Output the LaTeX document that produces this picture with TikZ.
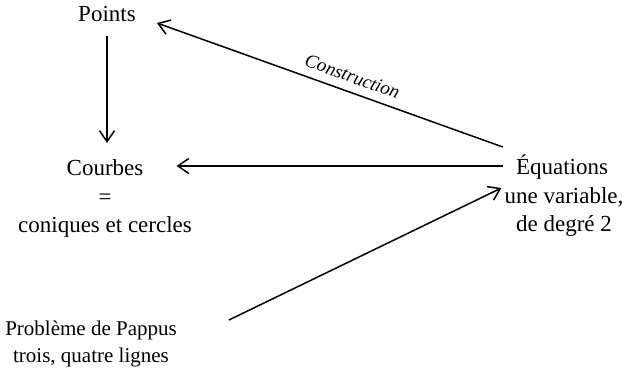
\documentclass[tikz,border=0pt]{standalone}
\usepackage{fontspec}
\setmainfont{Liberation Serif}
\usetikzlibrary{arrows.meta,calc}
\begin{document}
\begin{tikzpicture}[x=1pt,y=-1pt,
  lbl/.style={inner sep=0pt, anchor=base, font=\fontsize{23}{28}\selectfont},
  lbls/.style={inner sep=0pt, anchor=base, font=\fontsize{21}{27}\selectfont},
  arr/.style={-{Straight Barb[length=11pt,width=15pt,line width=1.5pt]}, line width=1.5pt},
  lab/.style={font=\fontsize{19}{22}\selectfont\itshape, inner sep=0pt}]
\useasboundingbox (0,0) rectangle (629,379);
\node[lbl] (points) at (107,22) {Points};
\node[lbl] (courbes) at (105,176) {Courbes};
\node[lbl] (egal) at (105,205) {=};
\node[lbl] (coniques) at (105,233) {coniques et cercles};
\node[lbl] (eqa) at (562,175) {Équations};
\node[lbl] (eqb) at (564,204) {une variable,};
\node[lbl] (eqc) at (564,232) {de degré 2};
\node[lbls] (papa) at (91,335) {Problème de Pappus};
\node[lbls] (papb) at (91,362) {trois, quatre lignes};
% connectors
\draw[arr] ($(points.base)+(0,14)$) -- ($(points.base)+(0,121)$);
\draw[arr] ($(eqa.base west)+(-13,-9)$) -- ($(courbes.base east)+(33,-10)$);
\draw[arr] ($(eqa.base west)+(-13,-28)$) -- ($(points.base east)+(21,1)$);
\path ($(points.base east)+(21,1)$) -- node[lab, sloped, above=9pt, pos=0.55] (constr) {Construction} ($(eqa.base west)+(-13,-28)$);
\draw[arr] ($(papa.base east)+(52,-15)$) -- ($(eqb.base west)+(-3,-16)$);
\end{tikzpicture}
\end{document}
